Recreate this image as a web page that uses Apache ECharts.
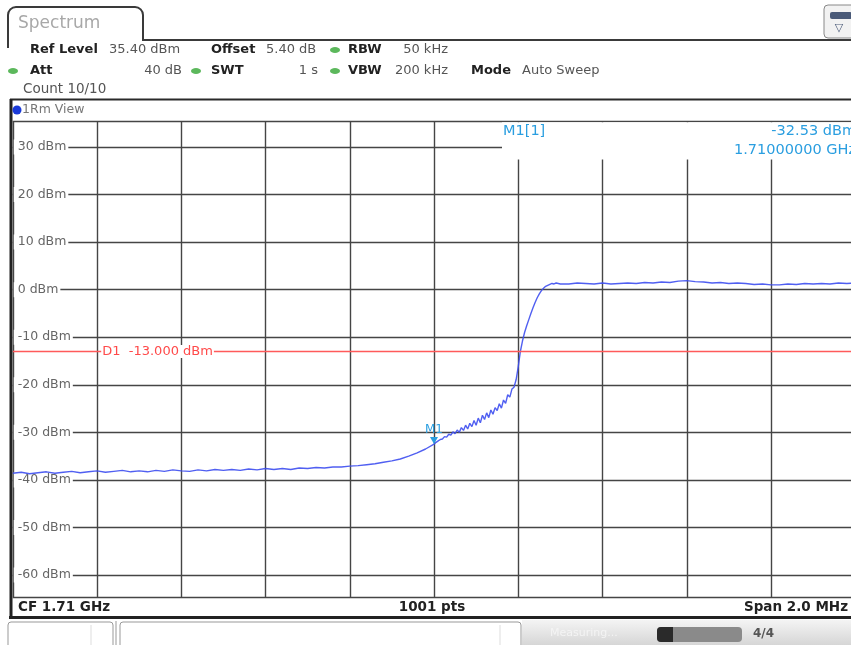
<!DOCTYPE html>
<html>
<head>
<meta charset="utf-8">
<title>Spectrum</title>
<script src="https://cdn.jsdelivr.net/npm/echarts@6/dist/echarts.min.js"></script>
<style>
  html, body { margin: 0; padding: 0; background: #fff; }
  #chart { width: 851px; height: 645px; }
</style>
</head>
<body>
<div id="chart"></div>
<script>
// trace 1Rm: offset from CF 1.71 GHz (MHz) and level (dBm)
const freqMHz = [
  -1.00, -0.98, -0.96, -0.94, -0.92, -0.90, -0.88, -0.86, -0.84, -0.82,
  -0.80, -0.78, -0.76, -0.74, -0.72, -0.70, -0.68, -0.66, -0.64, -0.62,
  -0.60, -0.58, -0.56, -0.54, -0.52, -0.50, -0.48, -0.46, -0.44, -0.42,
  -0.40, -0.38, -0.36, -0.34, -0.32, -0.30, -0.28, -0.26, -0.24, -0.22,
  -0.20, -0.18, -0.16, -0.14, -0.12, -0.10, -0.08, -0.06, -0.04, -0.02,
  0.000, 0.005, 0.010, 0.015, 0.020, 0.025, 0.030, 0.035, 0.040, 0.045,
  0.050, 0.055, 0.060, 0.065, 0.070, 0.075, 0.080, 0.085, 0.090, 0.095,
  0.100, 0.105, 0.110, 0.115, 0.120, 0.125, 0.130, 0.135, 0.140, 0.145,
  0.150, 0.155, 0.160, 0.165, 0.170, 0.175, 0.180, 0.185, 0.190, 0.195,
  0.200, 0.205, 0.210, 0.215, 0.220, 0.225, 0.230, 0.235, 0.240, 0.245,
  0.250, 0.255, 0.260, 0.265, 0.270, 0.275, 0.280, 0.285, 0.290, 0.295,
  0.300, 0.32, 0.34, 0.36, 0.38, 0.40, 0.42, 0.44, 0.46, 0.48,
  0.50, 0.52, 0.54, 0.56, 0.58, 0.60, 0.62, 0.64, 0.66, 0.68,
  0.70, 0.72, 0.74, 0.76, 0.78, 0.80, 0.82, 0.84, 0.86, 0.88,
  0.90, 0.92, 0.94, 0.96, 0.98, 1.00
];
const levelDbm = [
  -38.6, -38.4, -38.7, -38.5, -38.3, -38.6, -38.4, -38.2, -38.5, -38.3,
  -38.1, -38.4, -38.2, -38.0, -38.3, -38.1, -38.3, -38.0, -38.2, -37.9,
  -38.1, -38.2, -37.9, -38.1, -37.8, -38.0, -37.8, -38.0, -37.7, -37.9,
  -37.6, -37.8, -37.6, -37.8, -37.5, -37.6, -37.4, -37.5, -37.3, -37.3,
  -37.1, -37.0, -36.8, -36.6, -36.3, -36.0, -35.6, -35.0, -34.3, -33.5,
  -32.5, -32.1, -31.8, -31.5, -31.4, -30.9, -31.0, -30.4, -30.6, -29.9,
  -30.3, -29.5, -30.0, -29.0, -29.6, -28.5, -29.3, -28.1, -28.8, -27.5,
  -28.5, -27.0, -28.0, -26.4, -27.3, -25.9, -26.9, -25.3, -26.2, -24.8,
  -25.4, -24.0, -24.9, -23.2, -23.9, -22.1, -22.6, -20.9, -20.5, -18.9,
  -16.2, -13.0, -10.8, -9.0, -7.6, -6.3, -5.0, -3.8, -2.7, -1.7,
  -0.9, -0.2, 0.3, 0.7, 0.9, 1.1, 1.3, 1.2, 1.4, 1.3,
  1.2, 1.2, 1.4, 1.3, 1.2, 1.4, 1.2, 1.3, 1.4, 1.3,
  1.5, 1.4, 1.6, 1.5, 1.8, 1.9, 1.7, 1.6, 1.4, 1.5,
  1.3, 1.4, 1.3, 1.1, 1.2, 1.0, 1.0, 1.2, 1.1, 1.3,
  1.2, 1.3, 1.2, 1.4, 1.3, 1.4
];

const refLevel = 35.4;      // top of the screen
const bottomLevel = -64.6;  // 10 divisions below
const displayLine = -13;    // D1
const markerFreq = 0;       // M1 at CF
const markerLevel = -32.53;

// the diagram runs a few pixels past the right edge of the screenshot,
// so the visible span stops just short of +1 MHz
const spanStart = -1;
const spanVisibleEnd = 0.9899;

const FONT = 'DejaVu Sans';
const GRID_COLOR = '#454545';

const chart = echarts.init(document.getElementById('chart'));

chart.setOption({
  animation: false,
  grid: { left: 12.75, top: 121.3, right: 0, height: 475.6, show: false },
  xAxis: {
    type: 'value',
    min: spanStart,
    max: spanVisibleEnd,
    interval: 0.2,
    axisLine: { show: false },
    axisTick: { show: false },
    axisLabel: { show: false },
    splitLine: { show: true, showMaxLine: false, lineStyle: { color: GRID_COLOR, width: 1.4 } }
  },
  yAxis: {
    type: 'value',
    min: bottomLevel,
    max: refLevel,
    splitNumber: 10,
    axisLine: { show: false },
    axisTick: { show: false },
    axisLabel: {
      inside: true,
      margin: 1,
      showMinLabel: false,
      showMaxLabel: false,
      color: '#666',
      fontFamily: FONT,
      fontSize: 12.5,
      backgroundColor: '#fff',
      padding: [1, 2, 1, 4],
      formatter: v => (Math.abs(v % 10) < 1e-6 ? v + ' dBm' : '')
    },
    splitLine: { show: true, lineStyle: { color: GRID_COLOR, width: 1.4 } }
  },
  series: [{
    type: 'line',
    data: freqMHz.map((f, i) => [f, levelDbm[i]]),
    showSymbol: false,
    lineStyle: { color: '#3d4ef0', width: 1.4, opacity: 0.9 },
    markLine: {
      silent: true,
      symbol: 'none',
      label: { show: false },
      lineStyle: { color: '#ff5a5a', width: 1.4, type: 'solid' },
      data: [{ yAxis: displayLine }]
    },
    markPoint: {
      symbol: 'triangle',
      symbolRotate: 180,
      symbolSize: [8, 7],
      symbolOffset: [0, -4],
      itemStyle: { color: '#2a9ee0' },
      label: { show: true, position: 'top', distance: 1, formatter: 'M1', color: '#2a9ee0', fontFamily: FONT, fontSize: 12 },
      data: [{ coord: [markerFreq, markerLevel] }]
    }
  }]
});

// ---- instrument frame drawn around the diagram ----
function txt(x, y, s, o) {
  o = o || {};
  const align = o.align || 'left';
  return {
    type: 'text', x: x, y: y, z: o.z || 20,
    style: {
      text: s,
      fill: o.fill || '#555',
      font: (o.bold ? 'bold ' : '') + (o.size || 13) + 'px "' + FONT + '"',
      textAlign: align, align: align,
      textVerticalAlign: 'middle', verticalAlign: 'middle',
      backgroundColor: o.bg, padding: o.pad
    }
  };
}
function ln(x1, y1, x2, y2, color, w) {
  return { type: 'line', z: 15, shape: { x1, y1, x2, y2 }, style: { stroke: color, lineWidth: w } };
}
function dot(cx, cy) {
  return { type: 'ellipse', z: 20, shape: { cx, cy, rx: 5, ry: 3 }, style: { fill: '#5cb85c' } };
}

const d1Pos = chart.convertToPixel({ gridIndex: 0 }, [-0.79, displayLine]);
const MARK = '#2a9ee0';

const elements = [
  // tab + header frame
  { type: 'rect', z: 14, shape: { x: 8, y: 7, width: 135, height: 40, r: [8, 8, 0, 0] },
    style: { fill: '#fff', stroke: '#3a3a3a', lineWidth: 2 } },
  { type: 'rect', z: 15, shape: { x: 9, y: 41, width: 135, height: 8 }, style: { fill: '#fff' } },
  ln(142, 40, 851, 40, '#3a3a3a', 2),
  txt(18, 24, 'Spectrum', { fill: '#a8a8a8', size: 17 }),
  { type: 'rect', z: 15, shape: { x: 824, y: 5, width: 32, height: 33, r: 4 }, style: { fill: '#f2f2f2', stroke: '#888', lineWidth: 1 } },
  { type: 'rect', z: 16, shape: { x: 830, y: 12, width: 22, height: 7, r: 2 }, style: { fill: '#4a5a78' } },
  txt(839, 28, '▽', { fill: '#4a5a78', size: 11, align: 'center' }),

  txt(30, 50, 'Ref Level', { bold: true, fill: '#222' }),
  txt(109, 50, '35.40 dBm'),
  txt(211, 50, 'Offset', { bold: true, fill: '#222' }),
  txt(266, 50, '5.40 dB'),
  dot(335, 50),
  txt(348, 50, 'RBW', { bold: true, fill: '#222' }),
  txt(448, 50, '50 kHz', { align: 'right' }),
  dot(13, 71),
  txt(30, 71, 'Att', { bold: true, fill: '#222' }),
  txt(182, 71, '40 dB', { align: 'right' }),
  dot(196, 71),
  txt(211, 71, 'SWT', { bold: true, fill: '#222' }),
  txt(318, 71, '1 s', { align: 'right' }),
  dot(335, 71),
  txt(348, 71, 'VBW', { bold: true, fill: '#222' }),
  txt(448, 71, '200 kHz', { align: 'right' }),
  txt(471, 71, 'Mode', { bold: true, fill: '#222' }),
  txt(522, 71, 'Auto Sweep'),
  txt(23, 89, 'Count 10/10', { size: 13.5 }),

  ln(10, 99.5, 851, 99.5, '#2a2a2a', 2),
  { type: 'circle', z: 20, shape: { cx: 17, cy: 110, r: 4.5 }, style: { fill: '#1a3ad8' } },
  txt(22, 110, '1Rm View', { fill: '#777', size: 12.5 }),
  ln(11, 99, 11, 619, '#222', 3),
  ln(9, 617.5, 851, 617.5, '#222', 3),

  // footer of the diagram
  txt(18, 607, 'CF 1.71 GHz', { bold: true, fill: '#222', size: 13.5 }),
  txt(432, 607, '1001 pts', { bold: true, fill: '#222', align: 'center', size: 13.5 }),
  txt(848, 607, 'Span 2.0 MHz', { bold: true, fill: '#222', align: 'right', size: 13.5 }),

  // status bar
  { type: 'rect', z: 15, shape: { x: 8, y: 622, width: 105, height: 26, r: 3 }, style: { fill: '#fff', stroke: '#999', lineWidth: 1 } },
  ln(91, 625, 91, 645, '#ddd', 1),
  ln(116, 621, 116, 645, '#999', 1),
  { type: 'rect', z: 15, shape: { x: 120, y: 622, width: 401, height: 26, r: 3 }, style: { fill: '#fff', stroke: '#999', lineWidth: 1 } },
  ln(500, 625, 500, 645, '#ddd', 1),
  { type: 'rect', z: 14, shape: { x: 522, y: 620, width: 329, height: 25 },
    style: { fill: new echarts.graphic.LinearGradient(0, 0, 0, 1, [{ offset: 0, color: '#f4f4f4' }, { offset: 1, color: '#d6d6d6' }]) } },
  txt(550, 633, 'Measuring...', { fill: '#f4f4f4', size: 11 }),
  { type: 'rect', z: 15, shape: { x: 657, y: 627, width: 85, height: 15, r: 4 }, style: { fill: '#8a8a8a' } },
  { type: 'rect', z: 16, shape: { x: 657, y: 627, width: 16, height: 15, r: [4, 0, 0, 4] }, style: { fill: '#2a2a2a' } },
  txt(753, 634, '4/4', { bold: true, fill: '#555', size: 12 }),

  // marker info field blanks the grid in the upper right
  { type: 'rect', z: 10, shape: { x: 502, y: 122.3, width: 350, height: 37.2 }, style: { fill: '#fff' } },
  txt(503, 131, 'M1[1]', { fill: MARK, size: 14.5 }),
  txt(856, 131, '-32.53 dBm', { fill: MARK, align: 'right', size: 14.5 }),
  txt(856, 150, '1.71000000 GHz', { fill: MARK, align: 'right', size: 14.5 }),

  // display line label
  txt(d1Pos[0], d1Pos[1], 'D1  -13.000 dBm', { fill: '#ff4a4a', bg: '#fff', pad: [0, 1, 0, 1] })
];

chart.setOption({ graphic: { elements: elements } });

window.addEventListener('resize', () => chart.resize());
</script>
</body>
</html>
